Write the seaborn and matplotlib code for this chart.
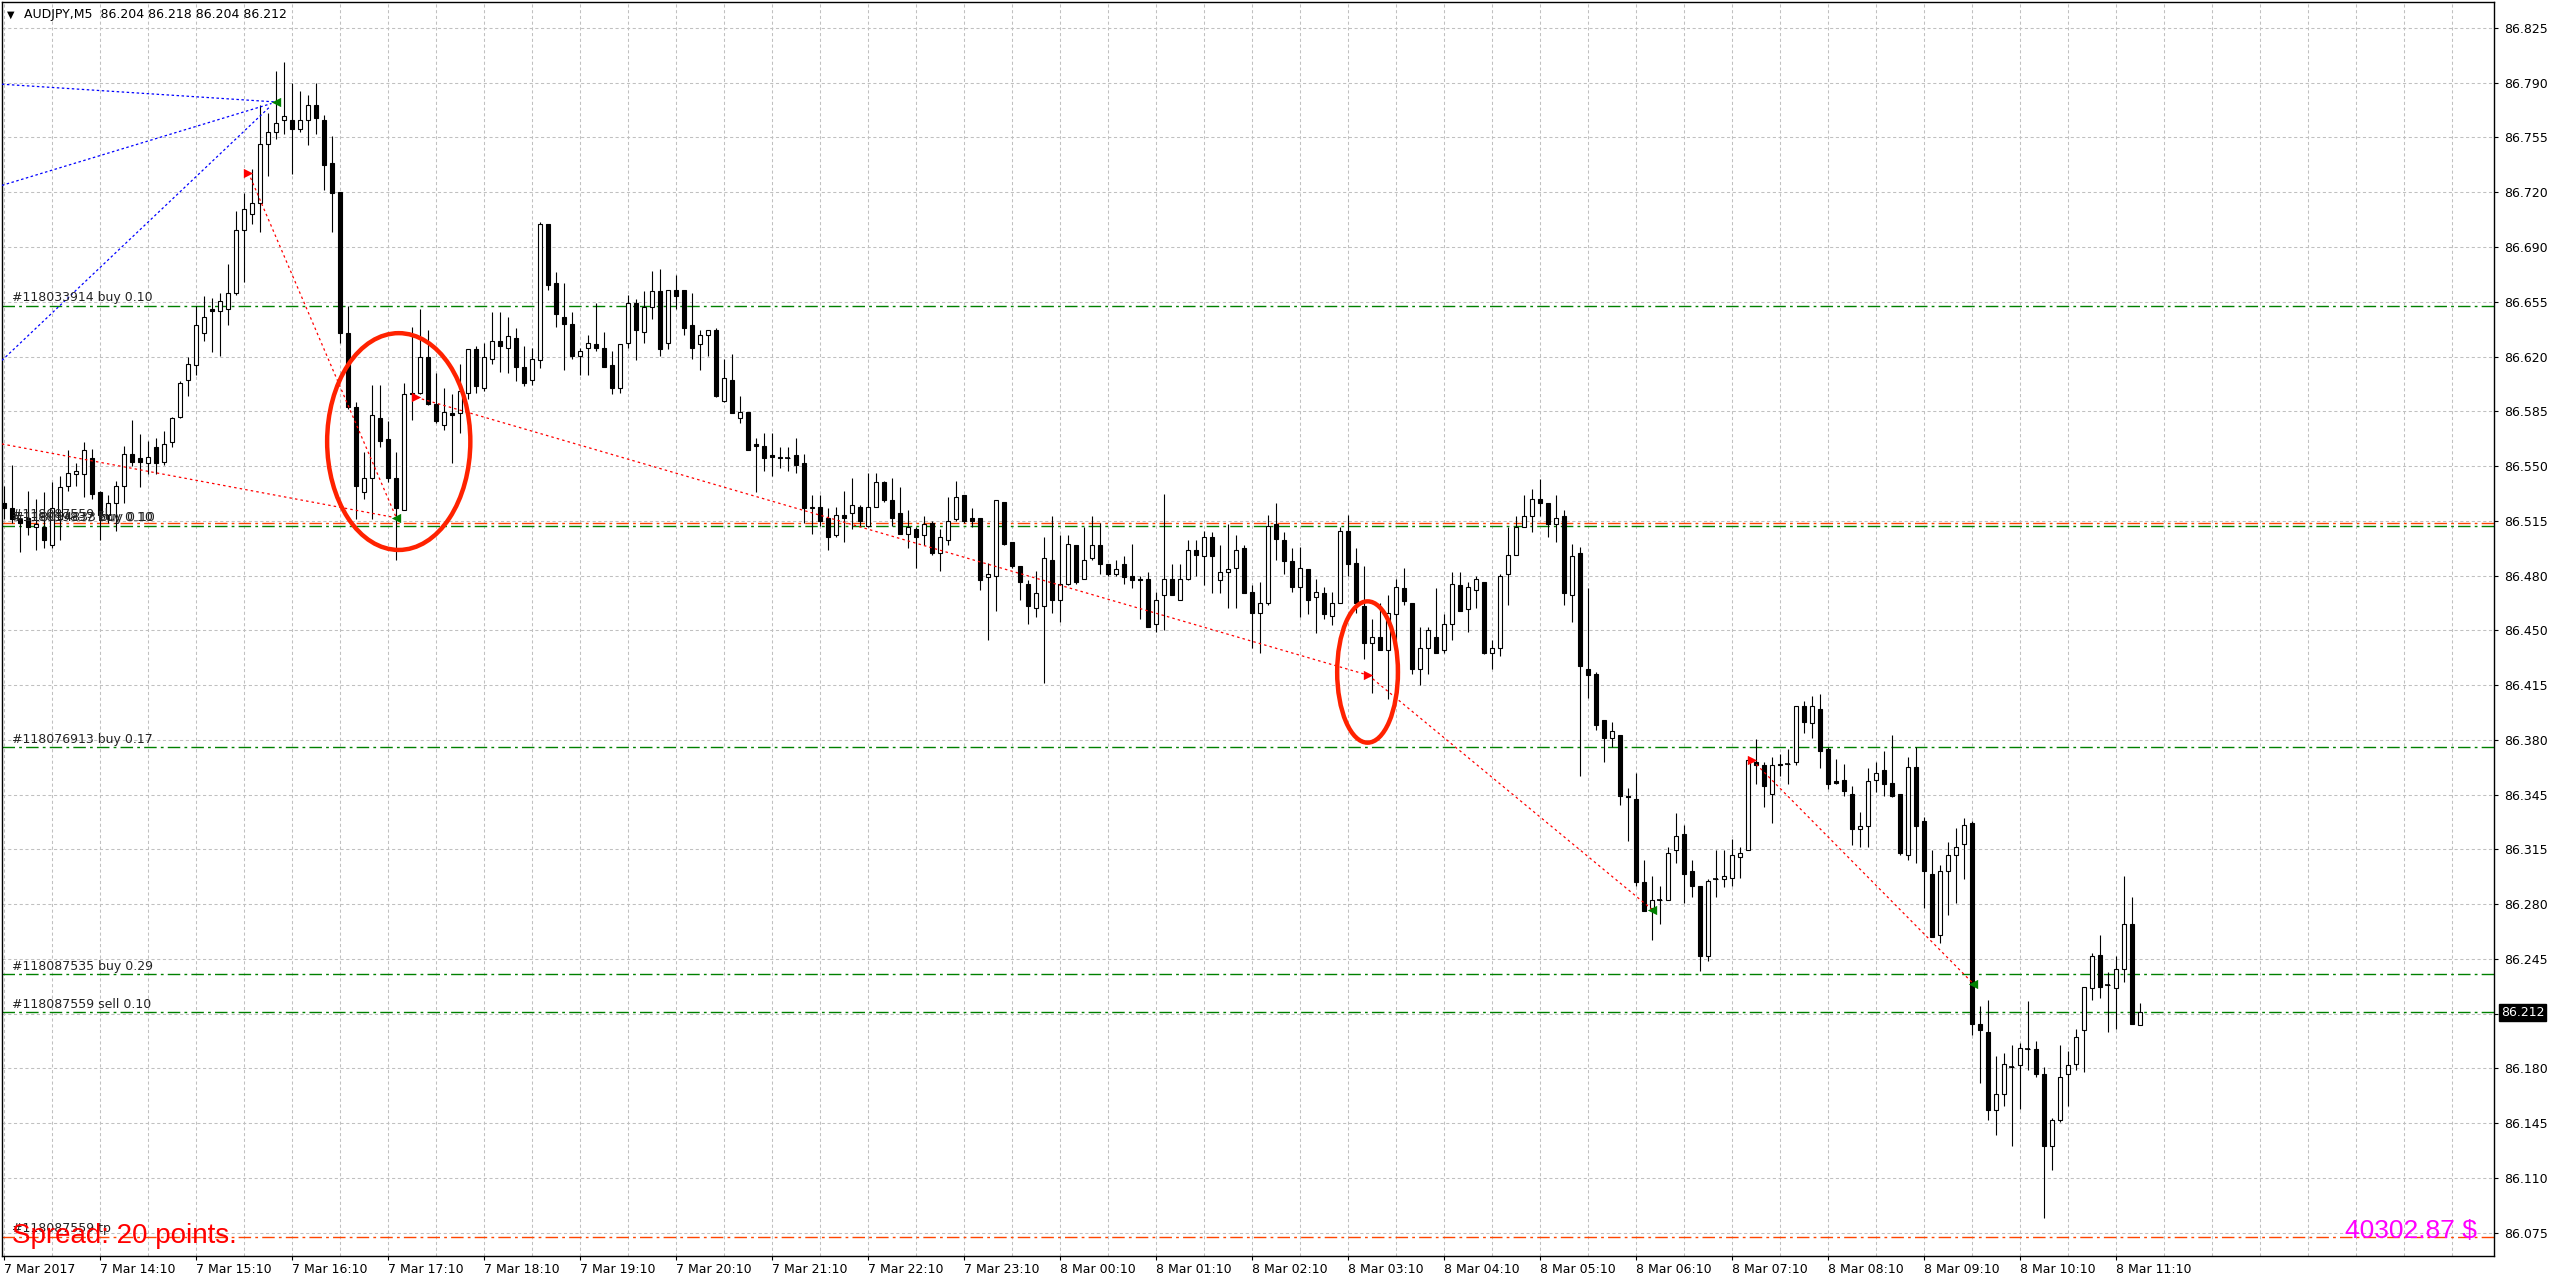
import numpy as np
import pandas as pd
import matplotlib
matplotlib.use("Agg")
import matplotlib.pyplot as plt
import seaborn as sns
from matplotlib.patches import Ellipse

sns.set_theme(style="white")
plt.rcParams['font.family'] = ['DejaVu Sans']

# ---------------- data ----------------
symbol = "AUDJPY,M5"
opens = [86.529,86.526,86.519,86.520,86.514,86.514,86.503,86.519,86.540,86.547,
         86.547,86.557,86.536,86.522,86.529,86.540,86.560,86.557,86.554,86.564,
         86.555,86.567,86.583,86.606,86.615,86.635,86.650,86.649,86.650,86.660,
         86.699,86.709,86.716,86.753,86.760,86.768,86.768,86.762,86.768,86.777,
         86.768,86.741,86.723,86.635,86.589,86.536,86.545,86.582,86.569,86.545,
         86.525,86.598,86.598,86.620,86.591,86.578,86.585,86.585,86.598,86.625,
         86.601,86.619,86.630,86.626,86.632,86.614,86.606,86.618,86.703,86.666,
         86.645,86.641,86.621,86.626,86.628,86.626,86.615,86.601,86.629,86.654,
         86.636,86.651,86.661,86.629,86.662,86.662,86.640,86.628,86.634,86.637,
         86.593,86.606,86.582,86.586,86.566,86.565,86.559,86.558,86.557,86.559,
         86.554,86.526,86.527,86.520,86.509,86.522,86.523,86.527,86.515,86.527,
         86.542,86.531,86.523,86.510,86.513,86.509,86.517,86.498,86.506,86.519,
         86.534,86.520,86.520,86.483,86.484,86.530,86.505,86.490,86.479,86.464,
         86.465,86.494,86.469,86.479,86.503,86.482,86.495,86.503,86.491,86.485,
         86.491,86.484,86.482,86.482,86.454,86.472,86.482,86.469,86.482,86.500,
         86.496,86.508,86.481,86.486,86.489,86.501,86.474,86.461,86.467,86.516,
         86.506,86.493,86.477,86.488,86.471,86.473,86.459,86.467,86.512,86.492,
         86.465,86.442,86.446,86.438,86.460,86.476,86.467,86.426,86.439,86.446,
         86.438,86.454,86.478,86.463,86.475,86.480,86.436,86.439,86.485,86.497,
         86.514,86.521,86.532,86.529,86.516,86.521,86.472,86.498,86.426,86.423,
         86.394,86.383,86.385,86.347,86.345,86.293,86.277,86.282,86.282,86.313,
         86.323,86.300,86.291,86.247,86.295,86.295,86.296,86.309,86.313,86.368,
         86.366,86.348,86.367,86.367,86.368,86.403,86.392,86.401,86.376,86.356,
         86.357,86.348,86.326,86.328,86.357,86.363,86.355,86.348,86.310,86.365,
         86.331,86.298,86.260,86.300,86.310,86.317,86.330,86.205,86.200,86.151,
         86.161,86.178,86.179,86.189,86.189,86.174,86.129,86.145,86.174,86.180,
         86.201,86.227,86.248,86.229,86.227,86.239,86.267,86.204]
highs = [86.540,86.553,86.521,86.537,86.532,86.536,86.542,86.546,86.562,86.554,
         86.567,86.563,86.537,86.534,86.543,86.565,86.581,86.572,86.568,86.570,
         86.574,86.583,86.605,86.620,86.652,86.658,86.657,86.660,86.678,86.711,
         86.722,86.737,86.777,86.772,86.798,86.804,86.791,86.786,86.783,86.791,
         86.771,86.758,86.723,86.652,86.592,86.561,86.603,86.603,86.580,86.561,
         86.604,86.639,86.650,86.637,86.610,86.601,86.597,86.616,86.625,86.627,
         86.629,86.648,86.648,86.645,86.638,86.627,86.626,86.704,86.703,86.673,
         86.666,86.648,86.626,86.634,86.654,86.636,86.624,86.628,86.659,86.656,
         86.661,86.674,86.675,86.662,86.671,86.662,86.660,86.637,86.637,86.638,
         86.619,86.622,86.596,86.586,86.570,86.573,86.573,86.564,86.564,86.570,
         86.560,86.534,86.534,86.526,86.527,86.537,86.545,86.528,86.548,86.548,
         86.543,86.545,86.539,86.525,86.514,86.521,86.518,86.513,86.533,86.543,
         86.534,86.526,86.520,86.492,86.531,86.530,86.505,86.490,86.481,86.487,
         86.508,86.521,86.509,86.509,86.503,86.514,86.521,86.517,86.491,86.494,
         86.496,86.504,86.484,86.486,86.474,86.535,86.491,86.491,86.506,86.506,
         86.512,86.511,86.503,86.516,86.509,86.503,86.478,86.480,86.522,86.529,
         86.511,86.501,86.502,86.488,86.482,86.477,86.474,86.514,86.522,86.501,
         86.490,86.457,86.467,86.472,86.482,86.489,86.467,86.452,86.452,86.476,
         86.460,86.486,86.486,86.480,86.484,86.480,86.444,86.485,86.514,86.521,
         86.534,86.538,86.544,86.529,86.534,86.525,86.504,86.502,86.476,86.424,
         86.394,86.393,86.385,86.352,86.361,86.307,86.297,86.291,86.315,86.336,
         86.329,86.307,86.291,86.295,86.313,86.313,86.320,86.315,86.371,86.382,
         86.368,86.371,86.373,86.376,86.403,86.406,86.409,86.410,86.377,86.370,
         86.367,86.353,86.337,86.364,86.368,86.375,86.385,86.348,86.371,86.377,
         86.334,86.313,86.304,86.318,86.327,86.333,86.331,86.216,86.220,86.185,
         86.187,86.192,86.193,86.219,86.194,86.178,86.146,86.192,86.188,86.202,
         86.228,86.249,86.260,86.237,86.247,86.297,86.284,86.218]
lows = [86.519,86.517,86.499,86.509,86.500,86.501,86.501,86.506,86.537,86.540,
        86.533,86.532,86.506,86.517,86.512,86.529,86.552,86.539,86.547,86.547,
        86.553,86.564,86.582,86.596,86.609,86.630,86.623,86.621,86.640,86.659,
        86.667,86.703,86.698,86.733,86.756,86.759,86.734,86.760,86.752,86.759,
        86.724,86.698,86.629,86.588,86.519,86.532,86.519,86.564,86.542,86.494,
        86.525,86.581,86.597,86.590,86.579,86.575,86.554,86.573,86.594,86.598,
        86.599,86.616,86.611,86.610,86.605,86.602,86.603,86.613,86.662,86.639,
        86.612,86.619,86.609,86.609,86.624,86.614,86.597,86.598,86.626,86.618,
        86.629,86.644,86.621,86.625,86.650,86.634,86.619,86.612,86.621,86.595,
        86.592,86.585,86.579,86.562,86.536,86.549,86.546,86.551,86.549,86.548,
        86.517,86.510,86.515,86.500,86.508,86.505,86.513,86.515,86.514,86.527,
        86.530,86.515,86.510,86.501,86.489,86.503,86.497,86.487,86.503,86.518,
        86.517,86.514,86.475,86.444,86.462,86.503,86.489,86.469,86.454,86.458,
        86.417,86.461,86.455,86.478,86.479,86.482,86.494,86.485,86.484,86.484,
        86.479,86.476,86.457,86.452,86.449,86.450,86.472,86.469,86.481,86.484,
        86.478,86.473,86.473,86.464,86.464,86.473,86.439,86.436,86.466,86.494,
        86.485,86.474,86.458,86.460,86.448,86.457,86.453,86.467,86.484,86.461,
        86.432,86.411,86.438,86.407,86.416,86.466,86.423,86.416,86.423,86.436,
        86.436,86.444,86.462,86.449,86.464,86.435,86.426,86.434,86.466,86.497,
        86.514,86.511,86.521,86.508,86.505,86.466,86.455,86.359,86.408,86.388,
        86.368,86.377,86.341,86.319,86.291,86.275,86.257,86.267,86.282,86.305,
        86.280,86.284,86.238,86.244,86.284,86.290,86.291,86.296,86.313,86.354,
        86.340,86.330,86.359,86.354,86.366,86.386,86.383,86.364,86.351,86.354,
        86.347,86.316,86.315,86.315,86.349,86.347,86.346,86.310,86.307,86.305,
        86.277,86.259,86.255,86.273,86.280,86.295,86.198,86.168,86.145,86.136,
        86.154,86.129,86.152,86.176,86.172,86.084,86.114,86.144,86.154,86.176,
        86.175,86.220,86.221,86.200,86.202,86.231,86.205,86.204]
closes = [86.526,86.519,86.517,86.514,86.516,86.506,86.526,86.539,86.548,86.549,
          86.562,86.535,86.522,86.529,86.540,86.560,86.555,86.555,86.558,86.554,
          86.566,86.582,86.604,86.616,86.640,86.645,86.649,86.655,86.660,86.699,
          86.712,86.716,86.753,86.760,86.766,86.770,86.762,86.768,86.777,86.769,
          86.740,86.722,86.635,86.589,86.540,86.545,86.584,86.568,86.545,86.526,
          86.597,86.597,86.620,86.591,86.580,86.586,86.584,86.599,86.625,86.602,
          86.620,86.630,86.627,86.633,86.614,86.604,86.619,86.703,86.665,86.647,
          86.641,86.621,86.624,86.629,86.626,86.614,86.601,86.628,86.654,86.637,
          86.651,86.661,86.625,86.662,86.658,86.638,86.626,86.634,86.637,86.596,
          86.607,86.585,86.586,86.562,86.565,86.557,86.558,86.557,86.557,86.553,
          86.526,86.527,86.518,86.508,86.522,86.520,86.528,86.518,86.527,86.542,
          86.531,86.520,86.510,86.514,86.508,86.516,86.498,86.508,86.518,86.533,
          86.518,86.518,86.481,86.485,86.531,86.504,86.490,86.480,86.465,86.473,
          86.495,86.469,86.479,86.504,86.480,86.494,86.503,86.491,86.485,86.488,
          86.483,86.481,86.481,86.452,86.469,86.482,86.472,86.482,86.500,86.497,
          86.508,86.496,86.486,86.488,86.500,86.473,86.461,86.467,86.515,86.507,
          86.493,86.477,86.489,86.469,86.474,86.460,86.467,86.512,86.491,86.467,
          86.442,86.446,86.438,86.461,86.477,86.468,86.426,86.439,86.450,86.436,
          86.454,86.479,86.462,86.477,86.482,86.436,86.439,86.484,86.497,86.514,
          86.521,86.532,86.529,86.516,86.520,86.473,86.496,86.428,86.422,86.391,
          86.383,86.387,86.347,86.346,86.293,86.275,86.282,86.282,86.311,86.322,
          86.298,86.291,86.247,86.294,86.295,86.297,86.310,86.311,86.369,86.366,
          86.353,86.366,86.366,86.367,86.403,86.393,86.403,86.375,86.354,86.355,
          86.350,86.326,86.328,86.356,86.361,86.354,86.347,86.311,86.365,86.328,
          86.300,86.259,86.300,86.310,86.315,86.329,86.205,86.201,86.151,86.161,
          86.180,86.178,86.190,86.189,86.174,86.129,86.145,86.172,86.179,86.197,
          86.228,86.247,86.228,86.229,86.239,86.267,86.205,86.212]

price_labels = ["86.825", "86.790", "86.755", "86.720", "86.690", "86.655", "86.620",
                "86.585", "86.550", "86.515", "86.480", "86.450", "86.415", "86.380",
                "86.345", "86.315", "86.280", "86.245", "", "86.180", "86.145",
                "86.110", "86.075"]
time_labels = ["7 Mar 2017", "7 Mar 14:10", "7 Mar 15:10", "7 Mar 16:10", "7 Mar 17:10",
               "7 Mar 18:10", "7 Mar 19:10", "7 Mar 20:10", "7 Mar 21:10", "7 Mar 22:10",
               "7 Mar 23:10", "8 Mar 00:10", "8 Mar 01:10", "8 Mar 02:10", "8 Mar 03:10",
               "8 Mar 04:10", "8 Mar 05:10", "8 Mar 06:10", "8 Mar 07:10", "8 Mar 08:10",
               "8 Mar 09:10", "8 Mar 10:10", "8 Mar 11:10"]

# open orders (green) and stops (orange)
order_levels = [86.652, 86.515, 86.377, 86.236, 86.212]
order_labels = ["#118033914 buy 0.10", "#118039837 buy 0.10", "#118076913 buy 0.17",
                "#118087535 buy 0.29", "#118087559 sell 0.10"]
extra_label_level = 86.515
extra_label = "#118054833 buy 0.10"
stop_levels = [86.5165, 86.072]
stop_labels = ["#118087559 sl", "#118087559 tp"]

# history trade lines (start bar, start price, end bar, end price)
blue_lines = [(-0.2, 86.790, 33.9, 86.779), (-0.2, 86.727, 33.5, 86.778), (-0.2, 86.618, 33.3, 86.776)]
red_lines = [(30.6, 86.735, 49.1, 86.520), (-0.2, 86.566, 49.1, 86.520),
             (51.6, 86.595, 170.6, 86.422), (170.6, 86.422, 206.1, 86.276),
             (218.6, 86.369, 246.2, 86.230)]
open_marks_x = [30.6, 51.6, 170.6, 218.6]
open_marks_y = [86.735, 86.595, 86.422, 86.369]
close_marks_x = [34.1, 49.1, 206.1, 246.2]
close_marks_y = [86.779, 86.520, 86.276, 86.230]

# highlighted areas (center bar, center price, width bars, height price)
ellipses = [(49.4, 86.5675, 17.9, 0.135), (170.5, 86.424, 7.6, 0.088)]

spread_text = "Spread: 20 points."
balance_text = "40302.87 $"
current_price = 86.212

# ---------------- figure ----------------
W, H = 2556, 1285
fig = plt.figure(figsize=(W / 100, H / 100), dpi=100, facecolor='white')
ax = fig.add_axes([2 / W, 29 / H, 2492 / W, 1254 / H])
ax.set_facecolor('white')

df = pd.DataFrame({'o': opens, 'h': highs, 'l': lows, 'c': closes})
df['bar'] = np.arange(len(df))
n = len(df)

price_ticks = np.linspace(86.825, 86.075, len(price_labels))
step = price_ticks[0] - price_ticks[1]
px = step / 54.75
ax.set_ylim(86.825 - 1228 * px, 86.825 + 26 * px)
ax.set_xlim(-0.19, 311.3)

# grid
grid_kw = dict(color='#c0c0c0', lw=0.75, linestyle=(0, (3, 2.5)), zorder=0)
for p in price_ticks:
    ax.axhline(p, **grid_kw)
for b in range(0, 312, 6):
    ax.axvline(b, **grid_kw)

# order lines
dashdot = (0, (9, 3, 2, 3))
for lev in order_levels:
    ax.axhline(lev, color='#008000', lw=1.0, linestyle=dashdot, zorder=1)
for lev in stop_levels:
    ax.axhline(lev, color='#ff4500', lw=1.0, linestyle=dashdot, zorder=1)

lab_kw = dict(xycoords=('axes fraction', 'data'), textcoords='offset points',
              fontsize=9, color='#222222', va='bottom', ha='left', zorder=6)
for lev, lab in zip(order_levels, order_labels):
    ax.annotate(lab, xy=(0.0041, lev), xytext=(0, 1), **lab_kw)
ax.annotate(extra_label, xy=(0.0041, extra_label_level), xytext=(1.5, 1), **lab_kw)
for lev, lab in zip(stop_levels, stop_labels):
    ax.annotate(lab, xy=(0.0041, lev), xytext=(0, 2), **lab_kw)

# trade history lines
for x0, y0, x1, y1 in blue_lines:
    ax.plot([x0, x1], [y0, y1], color='#0000ff', lw=0.9, linestyle=(0, (2, 2)), zorder=4)
for x0, y0, x1, y1 in red_lines:
    ax.plot([x0, x1], [y0, y1], color='#ff0000', lw=0.9, linestyle=(0, (2, 2.5)), zorder=4)

# candles
x = df['bar'].values
o = df['o'].values; c = df['c'].values
up = c >= o
bottom = np.minimum(o, c)
height = np.abs(c - o)
ax.vlines(x, df['l'].values, df['h'].values, color='black', lw=0.8, zorder=2)
ax.bar(x[up], height[up], bottom=bottom[up], width=0.5, color='white',
       edgecolor='black', linewidth=0.8, zorder=3)
ax.bar(x[~up], height[~up], bottom=bottom[~up], width=0.5, color='black',
       edgecolor='black', linewidth=0.8, zorder=3)
flat = height < 0.0006
ax.hlines(c[flat], x[flat] - 0.3, x[flat] + 0.3, color='black', lw=1.2, zorder=3)

# trade markers
sns.scatterplot(x=open_marks_x, y=open_marks_y, marker='>', color='#ff0000', s=45,
                linewidth=0, ax=ax, zorder=6, legend=False)
sns.scatterplot(x=close_marks_x, y=close_marks_y, marker='<', color='#008000', s=45,
                linewidth=0, ax=ax, zorder=6, legend=False)

# ellipses
for cx, cy, w, h in ellipses:
    ax.add_patch(Ellipse((cx, cy), w, h, fill=False, edgecolor='#ff2200', lw=3.2, zorder=7))

# axes styling
for s in ax.spines.values():
    s.set_color('black'); s.set_linewidth(1.0); s.set_visible(True)
ax.yaxis.tick_right()
ax.set_yticks(price_ticks)
ax.set_yticklabels(price_labels)
ax.set_xticks(np.arange(0, 12 * len(time_labels), 12))
ax.set_xticklabels(time_labels)
for t in ax.get_xticklabels():
    t.set_horizontalalignment('left')
ax.tick_params(axis='y', which='both', right=True, left=False, length=3, width=0.8,
               color='black', pad=4, labelsize=9, labelcolor='black', direction='out')
ax.tick_params(axis='x', which='both', bottom=True, length=3, width=0.8, color='black',
               pad=2, labelsize=9, labelcolor='black', direction='out')
ax.grid(False)
ax.set_xlabel(''); ax.set_ylabel('')

# current price box
ax.annotate(f"{current_price:.3f}", xy=(1.0, current_price), xycoords=('axes fraction', 'data'),
            xytext=(5, 0), textcoords='offset points', fontsize=9, color='white',
            va='center', ha='left', annotation_clip=False,
            bbox=dict(boxstyle='square,pad=0.15', fc='black', ec='black'))

# header
fig.text(7 / W, 1 - 14.5 / H, "\u25bc", fontsize=7, va='center', ha='left', color='black')
fig.text(24 / W, 1 - 14.5 / H,
         f"{symbol}  {opens[-1]:.3f} {highs[-1]:.3f} {lows[-1]:.3f} {closes[-1]:.3f}",
         fontsize=9, va='center', ha='left', color='black')

# spread / balance
fig.text(12 / W, 1 - 1243 / H, spread_text, fontsize=20, color='#ff0000',
         family=['Liberation Sans', 'DejaVu Sans'], va='baseline', ha='left', zorder=10)
fig.text(2477 / W, 1 - 1238 / H, balance_text, fontsize=19, color='#ff00ff',
         family=['Liberation Sans', 'DejaVu Sans'], va='baseline', ha='right', zorder=10)

fig.savefig("out.png", dpi=100, facecolor='white')
